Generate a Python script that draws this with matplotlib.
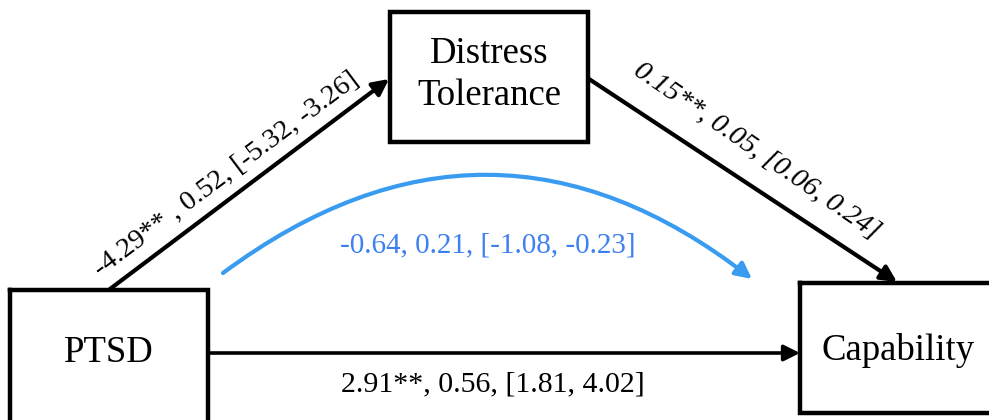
import matplotlib.pyplot as plt
from matplotlib.patches import Rectangle, FancyArrowPatch

# nodes of the mediation model
node_names = ["PTSD", "Distress\nTolerance", "Capability"]
# path labels: coefficient, SE, [95% CI]
path_a = "-4.29** , 0.52, [-5.32, -3.26]"
path_b = "0.15**, 0.05, [0.06, 0.24]"
path_c = "2.91**, 0.56, [1.81, 4.02]"
path_ind = "-0.64, 0.21, [-1.08, -0.23]"

# layout in pixel units (x right, y down)
boxes = {
    "PTSD": (10, 290, 198, 135),
    "Distress\nTolerance": (390, 12, 198, 130),
    "Capability": (800, 283, 200, 130),
}

plt.rcParams['font.family'] = ['Liberation Serif', 'DejaVu Serif']

fig = plt.figure(figsize=(9.89, 4.2), dpi=100)
ax = fig.add_axes([0, 0, 1, 1])
ax.set_xlim(0, 989)
ax.set_ylim(420, 0)
ax.axis('off')

for name in node_names:
    x, y, w, h = boxes[name]
    ax.add_patch(Rectangle((x, y), w, h, fill=False, edgecolor='black', lw=3.2,
                           joinstyle='miter', capstyle='projecting'))
    cy = y + 63 if name != "Capability" else y + 67
    ax.text(x + w / 2 if name != "Capability" else 898, cy, name, ha='center', va='center',
            fontsize=26.5, linespacing=1.3)

def arrow(p0, p1, color='black', lw=3.0, rad=0.0):
    a = FancyArrowPatch(p0, p1, arrowstyle='-|>', mutation_scale=24, color=color,
                        lw=lw, connectionstyle=f"arc3,rad={rad}", shrinkA=0, shrinkB=0)
    ax.add_patch(a)

arrow((110, 289), (389, 79))
arrow((589, 79), (897, 282))
arrow((209, 353), (800, 353), lw=2.6)
arrow((223, 273), (752, 279), color='#3a9cf0', lw=3.0, rad=-0.38)

ax.text(226, 174, path_a, rotation=36.8, rotation_mode='anchor', ha='center', va='center',
        fontsize=20.5)
ax.text(757, 151, path_b, rotation=-34.5, rotation_mode='anchor', ha='center', va='center',
        fontsize=20.5, style='italic')
ax.text(493, 384, path_c, ha='center', va='center', fontsize=21.5)
ax.text(488, 245, path_ind, ha='center', va='center', fontsize=21, color='#3f80f0')

fig.savefig("out.png", dpi=100)
